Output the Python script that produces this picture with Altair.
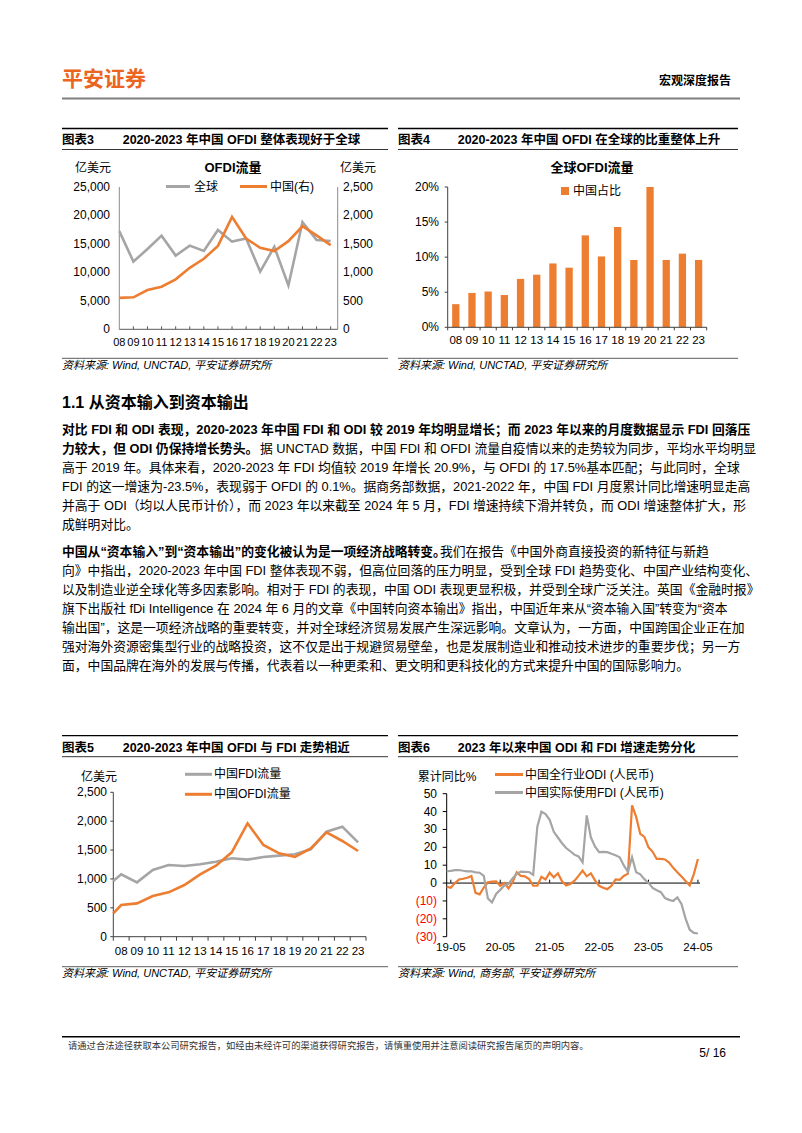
import altair as alt
import pandas as pd

# ---------------- data ----------------
years = ["08", "09", "10", "11", "12", "13", "14", "15", "16", "17", "18", "19", "20", "21", "22", "23"]
global_ofdi = [17250, 11900, 14100, 16450, 12950, 14700, 13750, 17450, 15400, 15950, 10150, 14500, 7700, 18800, 15700, 15500]
china_ofdi = [552, 562, 690, 749, 878, 1080, 1240, 1465, 1975, 1595, 1432, 1374, 1548, 1810, 1650, 1480]
china_share_pct = [3.3, 4.9, 5.1, 4.6, 6.9, 7.5, 9.1, 8.5, 13.1, 10.1, 14.3, 9.6, 20.0, 9.6, 10.5, 9.6]
fdi_flow = [1080, 941, 1155, 1241, 1224, 1253, 1299, 1357, 1334, 1380, 1403, 1426, 1513, 1819, 1905, 1634]
ofdi_flow = [548, 577, 704, 768, 895, 1080, 1230, 1461, 1963, 1588, 1443, 1380, 1530, 1807, 1657, 1484]
fdi_flow_start = 964
ofdi_flow_start = 404
months = [p.strftime("%y-%m") for p in pd.period_range("2019-04", "2024-05", freq="M")]
odi_yoy = [-2.0, -2.6, 0.0, 2.0, 2.4, 3.0, 4.0, -5.5, -6.3, -2.5, 0.4, 0.8, 1.0, -1.5, 0.0, -3.0,
           0.5, 6.0, 4.0, 3.8, 2.3, -1.5, -1.5, 3.5, 2.0, 5.8, 3.2, 5.5, 1.0, -1.3, -0.5, 1.2,
           4.0, 7.0, 3.8, 5.5, 1.5, -1.5, -2.6, -3.4, -1.5, 2.0, 1.8, 4.0, 5.3, 43.5, 37.0, 27.5,
           25.8, 20.0, 17.5, 13.5, 13.5, 13.2, 11.5, 8.5, 6.1, 3.7, 1.2, -1.3, 5.0, 13.5]
fdi_yoy = [6.7, 6.8, 7.2, 7.3, 6.9, 6.6, 6.6, 6.0, 5.8, 4.0, -8.6, -10.8, -6.1, -3.8, -1.3, -0.4,
           2.6, 5.2, 6.4, 6.3, 6.2, 4.6, 31.5, 39.9, 38.6, 35.4, 28.7, 25.5, 22.3, 19.6, 17.8, 15.9,
           14.9, 11.6, 37.9, 25.6, 20.5, 17.3, 17.4, 17.3, 16.4, 15.6, 14.4, 9.9, 6.3, 14.5, 6.1, 4.9,
           2.2, 0.1, -2.7, -4.0, -5.1, -8.4, -9.4, -10.0, -8.0, -11.7, -19.9, -26.1, -27.9, -28.2]
y3_left_ticks = [0, 5000, 10000, 15000, 20000, 25000]
y3_left_labels = ["0", "5,000", "10,000", "15,000", "20,000", "25,000"]
y3_right_ticks = [0, 500, 1000, 1500, 2000, 2500]
y3_right_labels = ["0", "500", "1,000", "1,500", "2,000", "2,500"]
y4_ticks = [0, 5, 10, 15, 20]
y4_labels = ["0%", "5%", "10%", "15%", "20%"]
y6_ticks = [50, 40, 30, 20, 10, 0, -10, -20, -30]
y6_labels = ["50", "40", "30", "20", "10", "0", "(10)", "(20)", "(30)"]
x6_labels = ["19-05", "20-05", "21-05", "22-05", "23-05", "24-05"]

p1_lines = [
    "对比 FDI 和 ODI 表现，2020-2023 年中国 FDI 和 ODI 较 2019 年均明显增长；而 2023 年以来的月度数据显示 FDI 回落压",
    "力较大，但 ODI 仍保持增长势头。",
    "据 UNCTAD 数据，中国 FDI 和 OFDI 流量自疫情以来的走势较为同步，平均水平均明显",
    "高于 2019 年。具体来看，2020-2023 年 FDI 均值较 2019 年增长 20.9%，与 OFDI 的 17.5%基本匹配；与此同时，全球",
    "FDI 的这一增速为-23.5%，表现弱于 OFDI 的 0.1%。据商务部数据，2021-2022 年，中国 FDI 月度累计同比增速明显走高",
    "并高于 ODI（均以人民币计价），而 2023 年以来截至 2024 年 5 月，FDI 增速持续下滑并转负，而 ODI 增速整体扩大，形",
    "成鲜明对比。",
]
p2_lines = [
    "中国从“资本输入”到“资本输出”的变化被认为是一项经济战略转变。",
    "我们在报告《中国外商直接投资的新特征与新趋",
    "向》中指出，2020-2023 年中国 FDI 整体表现不弱，但高位回落的压力明显，受到全球 FDI 趋势变化、中国产业结构变化、",
    "以及制造业逆全球化等多因素影响。相对于 FDI 的表现，中国 ODI 表现更显积极，并受到全球广泛关注。英国《金融时报》",
    "旗下出版社 fDi Intelligence 在 2024 年 6 月的文章《中国转向资本输出》指出，中国近年来从“资本输入国”转变为“资本",
    "输出国”，这是一项经济战略的重要转变，并对全球经济贸易发展产生深远影响。文章认为，一方面，中国跨国企业正在加",
    "强对海外资源密集型行业的战略投资，这不仅是出于规避贸易壁垒，也是发展制造业和推动技术进步的重要步伐；另一方",
    "面，中国品牌在海外的发展与传播，代表着以一种更柔和、更文明和更科技化的方式来提升中国的国际影响力。",
]

# ---------------- styling / layout ----------------
OX, OY = 8, 8
def px(v): return v - OX
def py(v): return v - OY

FONT = "'Liberation Sans', 'Noto Sans CJK SC', sans-serif"
BODYFONT = FONT
ORANGE = "#ED7D31"
GRAY = "#A5A5A5"
LOGO = "#EB6420"
RED = "#FF0000"

ONE = pd.DataFrame({"k": [0]})
layers = []


def S(domain, r0, r1, **kw):
    return alt.Scale(domain=domain, range=[r0, r1], nice=False, zero=False, **kw)


def label(s, x, y, size=12.0, bold=False, italic=False, color="#000000", align="left", font=FONT):
    props = dict(text=s, font=font, fontSize=size, color=color, align=align, baseline="middle")
    if bold:
        props["fontWeight"] = "bold"
    if italic:
        props["fontStyle"] = "italic"
    layers.append(alt.Chart(ONE).mark_text(**props).encode(x=alt.value(px(x)), y=alt.value(py(y))))


def hline(x1, x2, y, color="#000000", w=1.0):
    layers.append(alt.Chart(ONE).mark_rule(color=color, strokeWidth=w).encode(
        x=alt.value(px(x1)), x2=alt.value(px(x2)), y=alt.value(py(y))))


def vline(x, y1, y2, color="#000000", w=1.0):
    layers.append(alt.Chart(ONE).mark_rule(color=color, strokeWidth=w).encode(
        x=alt.value(px(x)), y=alt.value(py(y1)), y2=alt.value(py(y2))))


def line(df, xf, yf, xs, ys, color, w):
    return alt.Chart(df).mark_line(color=color, strokeWidth=w).encode(
        x=alt.X(f"{xf}:Q", scale=xs, axis=None), y=alt.Y(f"{yf}:Q", scale=ys, axis=None))


def frame(x1, x2, tag, title, title_x, y_top, y_title, y_bot, y_src_line, y_src, src):
    hline(x1, x2, y_top, w=1.3)
    label(tag, x1, y_title, size=12.5, bold=True)
    label(title, title_x, y_title, size=12.5, bold=True)
    hline(x1, x2, y_bot, w=0.8)
    hline(x1, x2, y_src_line, color="#333333", w=0.8)
    label(src, x1, y_src, size=11, italic=True)


def ylabels(ticks, labels, scale, x, size=12, align="right", colored=False):
    d = pd.DataFrame({"v": ticks, "t": labels})
    col = alt.condition("datum.v < 0", alt.value(RED), alt.value("#000000")) if colored else alt.value("#000000")
    layers.append(alt.Chart(d).mark_text(font=FONT, fontSize=size, align=align, baseline="middle").encode(
        x=alt.value(px(x)), y=alt.Y("v:Q", scale=scale, axis=None), text="t:N", color=col))


# ---------------- page header ----------------
label("平安证券", 62, 80, size=21, bold=True, color=LOGO)
label("宏观深度报告", 731, 81, size=12, bold=True, align="right")
hline(62, 740, 98.5, color="#7F7F7F", w=2)

# ---------------- chart 3 ----------------
frame(62, 388, "图表3", "2020-2023 年中国 OFDI 整体表现好于全球", 122.7, 128.5, 139.5, 149.5, 358.3, 366,
      "资料来源: Wind, UNCTAD, 平安证券研究所")
X3 = S([0, 15.5], px(119.3), px(337.7))
Y3L = S([0, 25000], py(329.3), py(187))
Y3R = S([0, 2500], py(329.3), py(187))
df3 = pd.DataFrame({"i": list(range(len(years))), "yr": years, "g": global_ofdi, "c": china_ofdi})
vline(119.3, 187, 329.3, "#8C8C8C")
vline(337.7, 187, 329.3, "#8C8C8C")
hline(119.3, 337.7, 329.3, "#595959")
layers.append(alt.Chart(df3[df3["i"] > 0]).mark_rule(color="#595959", strokeWidth=1).encode(
    x=alt.X("i:Q", scale=X3, axis=None), y=alt.value(py(329.3)), y2=alt.value(py(326.3))))
layers.append(line(df3, "i", "g", X3, Y3L, GRAY, 2.6))
layers.append(line(df3, "i", "c", X3, Y3R, ORANGE, 2.6))
layers.append(alt.Chart(df3).mark_text(font=FONT, fontSize=11, baseline="middle").encode(
    x=alt.X("i:Q", scale=X3, axis=None), y=alt.value(py(343)), text="yr:N"))
ylabels(y3_left_ticks, y3_left_labels, Y3L, 110)
ylabels(y3_right_ticks, y3_right_labels, Y3R, 343, align="left")
label("亿美元", 93, 168, size=12, align="center")
label("亿美元", 358, 168, size=12, align="center")
label("OFDI流量", 233, 168, size=13, bold=True, align="center")
hline(166, 190, 186.5, color=GRAY, w=3)
label("全球", 194, 186.5, size=12)
hline(240, 267, 186.5, color=ORANGE, w=3)
label("中国(右)", 270, 186.5, size=12)

# ---------------- chart 4 ----------------
frame(398, 738, "图表4", "2020-2023 年中国 OFDI 在全球的比重整体上升", 457.7, 128.5, 139.5, 149.5, 358.3, 366,
      "资料来源: Wind, UNCTAD, 平安证券研究所")
X4 = alt.Scale(domain=years, range=[px(447.7), px(706.7)], paddingInner=0.55, paddingOuter=0.275)
X4B = S([0, len(years)], px(447.7), px(706.7))
Y4 = S([0, 20], py(327.3), py(187))
df4 = pd.DataFrame({"yr": years, "s": china_share_pct})
layers.append(alt.Chart(df4).mark_bar(color=ORANGE).encode(
    x=alt.X("yr:N", scale=X4, axis=None, sort=None), y=alt.Y("s:Q", scale=Y4, axis=None)))
vline(447.7, 187, 327.3, "#404040")
hline(447.7, 706.7, 327.3, "#404040")
d4t = pd.DataFrame({"v": y4_ticks})
layers.append(alt.Chart(d4t).mark_rule(color="#404040").encode(
    y=alt.Y("v:Q", scale=Y4, axis=None), x=alt.value(px(444.7)), x2=alt.value(px(447.7))))
d4b = pd.DataFrame({"b": list(range(len(years) + 1))})
layers.append(alt.Chart(d4b).mark_rule(color="#404040").encode(
    x=alt.X("b:Q", scale=X4B, axis=None), y=alt.value(py(327.3)), y2=alt.value(py(330.3))))
layers.append(alt.Chart(df4).mark_text(font=FONT, fontSize=11.5, baseline="middle").encode(
    x=alt.X("yr:N", scale=X4, axis=None, sort=None), y=alt.value(py(341)), text="yr:N"))
ylabels(y4_ticks, y4_labels, Y4, 439)
label("全球OFDI流量", 592, 168, size=13, bold=True, align="center")
layers.append(alt.Chart(ONE).mark_rect(color=ORANGE).encode(
    x=alt.value(px(561)), x2=alt.value(px(569)), y=alt.value(py(187)), y2=alt.value(py(195))))
label("中国占比", 573, 191, size=12)

# ---------------- body text ----------------
BODY = 12.8
label("1.1 从资本输入到资本输出", 62, 403, size=16, bold=True)
LS = 19
y = 430
label(p1_lines[0], 62, y, size=BODY, bold=True, font=BODYFONT)
y += LS
label(p1_lines[1], 62, y, size=BODY, bold=True, font=BODYFONT)
label(p1_lines[2], 260, y, size=BODY, font=BODYFONT)
for s in p1_lines[3:]:
    y += LS
    label(s, 62, y, size=BODY, font=BODYFONT)
y = 552
label(p2_lines[0], 62, y, size=BODY, bold=True, font=BODYFONT)
label(p2_lines[1], 440, y, size=BODY, font=BODYFONT)
for s in p2_lines[2:]:
    y += LS
    label(s, 62, y, size=BODY, font=BODYFONT)

# ---------------- chart 5 ----------------
frame(62, 388, "图表5", "2020-2023 年中国 OFDI 与 FDI 走势相近", 122.7, 735.7, 747.5, 756.7, 966.7, 974,
      "资料来源: Wind, UNCTAD, 平安证券研究所")
X5 = S([-0.5, len(years) - 0.5], px(113.3), px(366))
Y5 = S([0, 2500], py(936.7), py(792.3))
df5 = pd.DataFrame({"i": [-0.5] + list(range(len(years))),
                    "f": [fdi_flow_start] + fdi_flow,
                    "o": [ofdi_flow_start] + ofdi_flow})
df5lab = pd.DataFrame({"i": list(range(len(years))), "yr": years})
vline(113.3, 792.3, 936.7, "#404040")
hline(113.3, 366, 936.7, "#404040")
d5b = pd.DataFrame({"b": [k - 0.5 for k in range(len(years) + 1)]})
layers.append(alt.Chart(d5b).mark_rule(color="#404040").encode(
    x=alt.X("b:Q", scale=X5, axis=None), y=alt.value(py(936.7)), y2=alt.value(py(940.7))))
d5t = pd.DataFrame({"v": y3_right_ticks})
layers.append(alt.Chart(d5t).mark_rule(color="#404040").encode(
    y=alt.Y("v:Q", scale=Y5, axis=None), x=alt.value(px(110.3)), x2=alt.value(px(113.3))))
layers.append(line(df5, "i", "f", X5, Y5, GRAY, 2.6))
layers.append(line(df5, "i", "o", X5, Y5, ORANGE, 2.6))
layers.append(alt.Chart(df5lab).mark_text(font=FONT, fontSize=11.5, baseline="middle").encode(
    x=alt.X("i:Q", scale=X5, axis=None), y=alt.value(py(952)), text="yr:N"))
ylabels(y3_right_ticks, y3_right_labels, Y5, 107)
label("亿美元", 99, 777, size=12, align="center")
hline(185, 212, 774.3, color=GRAY, w=3)
label("中国FDI流量", 214, 774.3, size=12)
hline(185, 212, 794.3, color=ORANGE, w=3)
label("中国OFDI流量", 214, 794.3, size=12)

# ---------------- chart 6 ----------------
frame(398, 738, "图表6", "2023 年以来中国 ODI 和 FDI 增速走势分化", 457.7, 735.7, 747.5, 756.7, 966.7, 974,
      "资料来源: Wind, 商务部, 平安证券研究所")
X6 = S([-1, 60.5], px(446.7), px(700))
Y6 = S([-30, 50], py(936.7), py(793.7))
df6 = pd.DataFrame({"m": list(range(-1, len(months) - 1)), "mon": months, "odi": odi_yoy, "fdi": fdi_yoy})
vline(446.7, 793.7, 936.7, "#000000")
zero = pd.DataFrame({"a": [-1], "b": [60.5], "z": [0]})
layers.append(alt.Chart(zero).mark_rule(color="#000000", strokeWidth=1).encode(
    x=alt.X("a:Q", scale=X6, axis=None), x2="b:Q", y=alt.Y("z:Q", scale=Y6, axis=None)))
d6t = pd.DataFrame({"v": y6_ticks})
layers.append(alt.Chart(d6t).mark_rule(color="#000000").encode(
    y=alt.Y("v:Q", scale=Y6, axis=None), x=alt.value(px(442.7)), x2=alt.value(px(446.7))))
df6lab = df6[df6["mon"].isin(x6_labels)]
layers.append(alt.Chart(df6lab).mark_rule(color="#000000").encode(
    x=alt.X("m:Q", scale=X6, axis=None), y=alt.value(py(882.7)), y2=alt.value(py(879.7))))
layers.append(line(df6, "m", "odi", X6, Y6, ORANGE, 2.2))
layers.append(line(df6, "m", "fdi", X6, Y6, GRAY, 2.2))
layers.append(alt.Chart(df6lab).mark_text(font=FONT, fontSize=11.5, baseline="middle").encode(
    x=alt.X("m:Q", scale=X6, axis=None), y=alt.value(py(948.3)), text="mon:N"))
ylabels(y6_ticks, y6_labels, Y6, 437, colored=True)
label("累计同比%", 447, 777, size=12, align="center")
hline(495, 523, 774.5, color=ORANGE, w=3)
label("中国全行业ODI (人民币)", 525, 774.5, size=12)
hline(495, 523, 792.5, color=GRAY, w=3)
label("中国实际使用FDI (人民币)", 525, 792.5, size=12)

# ---------------- footer ----------------
hline(62, 740, 1036.7, color="#000000", w=1.5)
label("请通过合法途径获取本公司研究报告，如经由未经许可的渠道获得研究报告，请慎重使用并注意阅读研究报告尾页的声明内容。",
      68, 1045.5, size=9.3, color="#333333")
label("5/ 16", 726, 1053.3, size=12, align="right")

chart = alt.layer(*layers).resolve_scale(x="independent", y="independent").properties(
    width=786, height=1117, padding=0, autosize=alt.AutoSizeParams(type="none"), background="white"
).configure_view(strokeWidth=0)

chart.save("out.html", embed_options={"renderer": "svg", "actions": False})
